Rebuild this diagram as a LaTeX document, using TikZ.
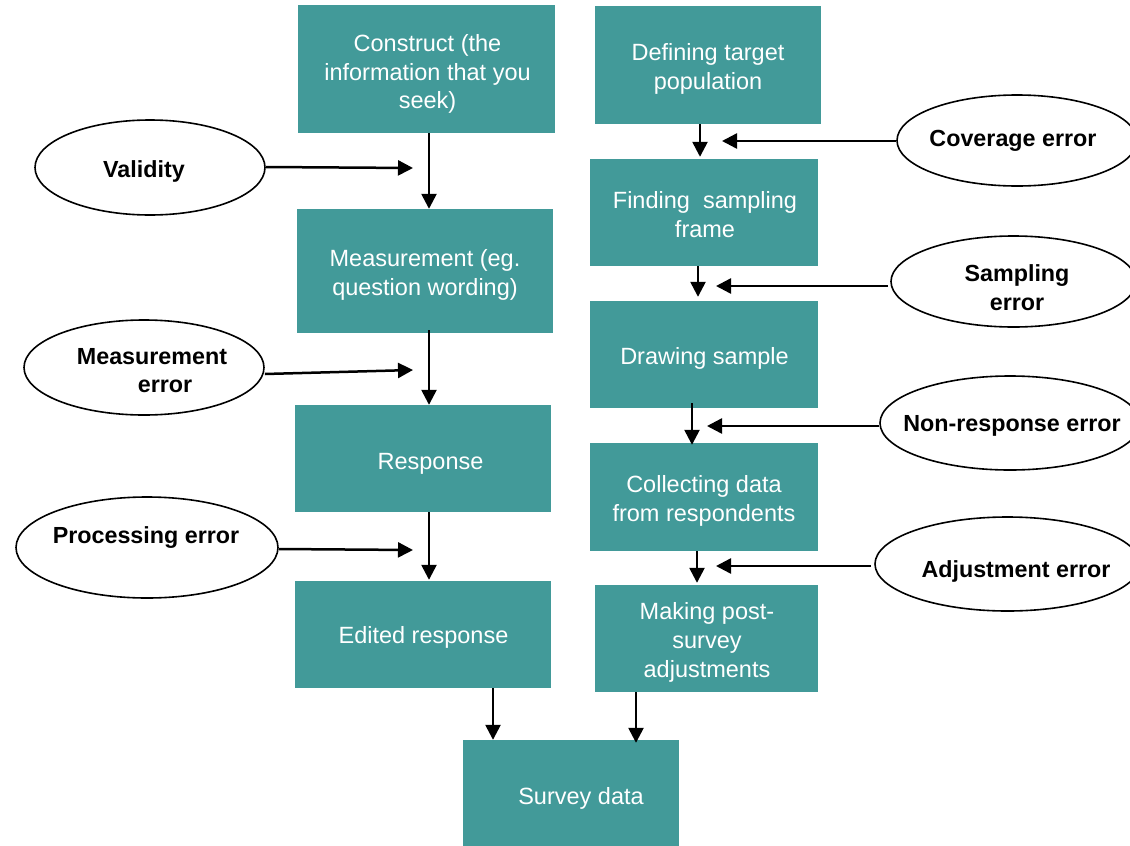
\documentclass[tikz,border=0pt]{standalone}
\usepackage{fontspec}
\setmainfont{Liberation Sans}
\usetikzlibrary{shapes.geometric,arrows.meta,calc}
\definecolor{teal}{HTML}{429A99}
\begin{document}
\begin{tikzpicture}[x=1pt,y=-1pt,
  box/.style={rectangle,fill=teal,draw=none,inner sep=0pt},
  boxtext/.style={text=white,align=center,font=\fontsize{23.5}{28.8}\selectfont,inner sep=0pt},
  oval/.style={ellipse,draw=black,line width=1.6pt,fill=white,inner sep=0pt},
  ovaltext/.style={align=center,font=\fontsize{23.3}{28.8}\selectfont\bfseries,inner sep=0pt},
  arr/.style={line width=2.5pt,-{Triangle[length=15pt,width=15pt]}}]
\useasboundingbox (0,0) rectangle (1130,846);
\clip (0,0) rectangle (1130,846);
% left column boxes
\node[box,minimum width=257pt,minimum height=128pt] (construct) at (426.5,69) {};
\node[box,minimum width=256pt,minimum height=124pt] (measure) at (425,271) {};
\node[box,minimum width=256pt,minimum height=107pt] (response) at (423,458.5) {};
\node[box,minimum width=256pt,minimum height=107pt] (edited) at (423,634.5) {};
\node[box,minimum width=216pt,minimum height=106pt] (survey) at (571,793) {};
% right column boxes
\node[box,minimum width=226pt,minimum height=118pt] (define) at (708,65) {};
\node[box,minimum width=228pt,minimum height=107pt] (frame) at (704,212.5) {};
\node[box,minimum width=228pt,minimum height=107pt] (draw) at (704,354.5) {};
\node[box,minimum width=228pt,minimum height=108pt] (collect) at (704,497) {};
\node[box,minimum width=223pt,minimum height=107pt] (adjust) at (706.5,638.5) {};
% box texts
\node[boxtext] (constructT) at ($(construct)+(1,5)$) {Construct (the\\information that you\\seek)};
\node[boxtext] (measureT) at ($(measure)+(0,4)$) {Measurement (eg.\\question wording)};
\node[boxtext] (responseT) at ($(response)+(7.5,5)$) {Response};
\node[boxtext] (editedT) at ($(edited)+(0.5,3)$) {Edited response};
\node[boxtext] (surveyT) at ($(survey)+(10,5)$) {Survey data};
\node[boxtext] (defineT) at ($(define)+(0,4)$) {Defining target\\population};
\node[boxtext] (frameT) at ($(frame)+(1,2)$) {Finding\ \ sampling\\frame};
\node[boxtext] (drawT) at ($(draw)+(0.5,4)$) {Drawing sample};
\node[boxtext] (collectT) at ($(collect)+(0,4)$) {Collecting data\\from respondents};
\node[boxtext] (adjustT) at ($(adjust)+(0.5,4)$) {Making post-\\survey\\adjustments};
% ellipses
\node[oval,minimum width=230pt,minimum height=95pt] (validity) at (150,167.5) {};
\node[oval,minimum width=240pt,minimum height=95pt] (merr) at (144,367.5) {};
\node[oval,minimum width=262pt,minimum height=101pt] (perr) at (147,547.5) {};
\node[oval,minimum width=240pt,minimum height=91pt] (cerr) at (1017,140.5) {};
\node[oval,minimum width=245pt,minimum height=91pt] (serr) at (1013.5,281.5) {};
\node[oval,minimum width=260pt,minimum height=94pt] (nerr) at (1010,423) {};
\node[oval,minimum width=265pt,minimum height=94pt] (aerr) at (1007.5,564) {};
% ellipse texts
\node[ovaltext] (validityT) at (144,171) {Validity};
\node[ovaltext] (merrT1) at (152,357) {Measurement};
\node[ovaltext] (merrT2) at (165,386) {error};
\node[ovaltext] (perrT) at (146,538) {Processing error};
\node[ovaltext] (cerrT) at (1013,141) {Coverage error};
\node[ovaltext] (serrT) at (1017,288) {Sampling\\error};
\node[ovaltext] (nerrT) at (1012,426) {Non-response error};
\node[ovaltext] (aerrT) at (1016,571) {Adjustment error};
% free ends
\coordinate (v1) at (413,168);
\coordinate (m1) at (413,370);
\coordinate (p1) at (413,550);
\coordinate (c1) at (722,141);
\coordinate (s1) at (716,286);
\coordinate (n1) at (707,426);
\coordinate (a1) at (716,566);
% vertical arrows left
\draw[arr] (construct.south -| 429,0) -- (measure.north -| 429,0);
\draw[arr] ($(measure.south -| 429,0)+(0,-3)$) -- (response.north -| 429,0);
\draw[arr] (response.south -| 429,0) -- ($(edited.north -| 429,0)+(0,-1)$);
\draw[arr] (edited.south -| 493,0) -- (survey.north -| 493,0);
\draw[arr] (adjust.south -| 636,0) -- ($(survey.north -| 636,0)+(0,3)$);
% vertical arrows right
\draw[arr] (define.south -| 700,0) -- ($(frame.north -| 700,0)+(0,-2)$);
\draw[arr] (frame.south -| 698,0) -- ($(draw.north -| 698,0)+(0,-4)$);
\draw[arr] ($(draw.south -| 692,0)+(0,-5)$) -- ($(collect.north -| 692,0)+(0,2)$);
\draw[arr] (collect.south -| 697,0) -- ($(adjust.north -| 697,0)+(0,-2)$);
% horizontal arrows
\draw[arr] (validity.east |- 0,167) -- (v1);
\draw[arr] ($(merr.east)+(0,6.5)$) -- (m1);
\draw[arr] ($(perr.east)+(0,1.5)$) -- (p1);
\draw[arr] (cerr.west |- 0,141) -- (c1);
\draw[arr] ($(serr.west)+(-2,4.5)$) -- (s1);
\draw[arr] ($(nerr.west)+(0,3)$) -- (n1);
\draw[arr] ($(aerr.west)+(-3,2)$) -- (a1);
\end{tikzpicture}
\end{document}
